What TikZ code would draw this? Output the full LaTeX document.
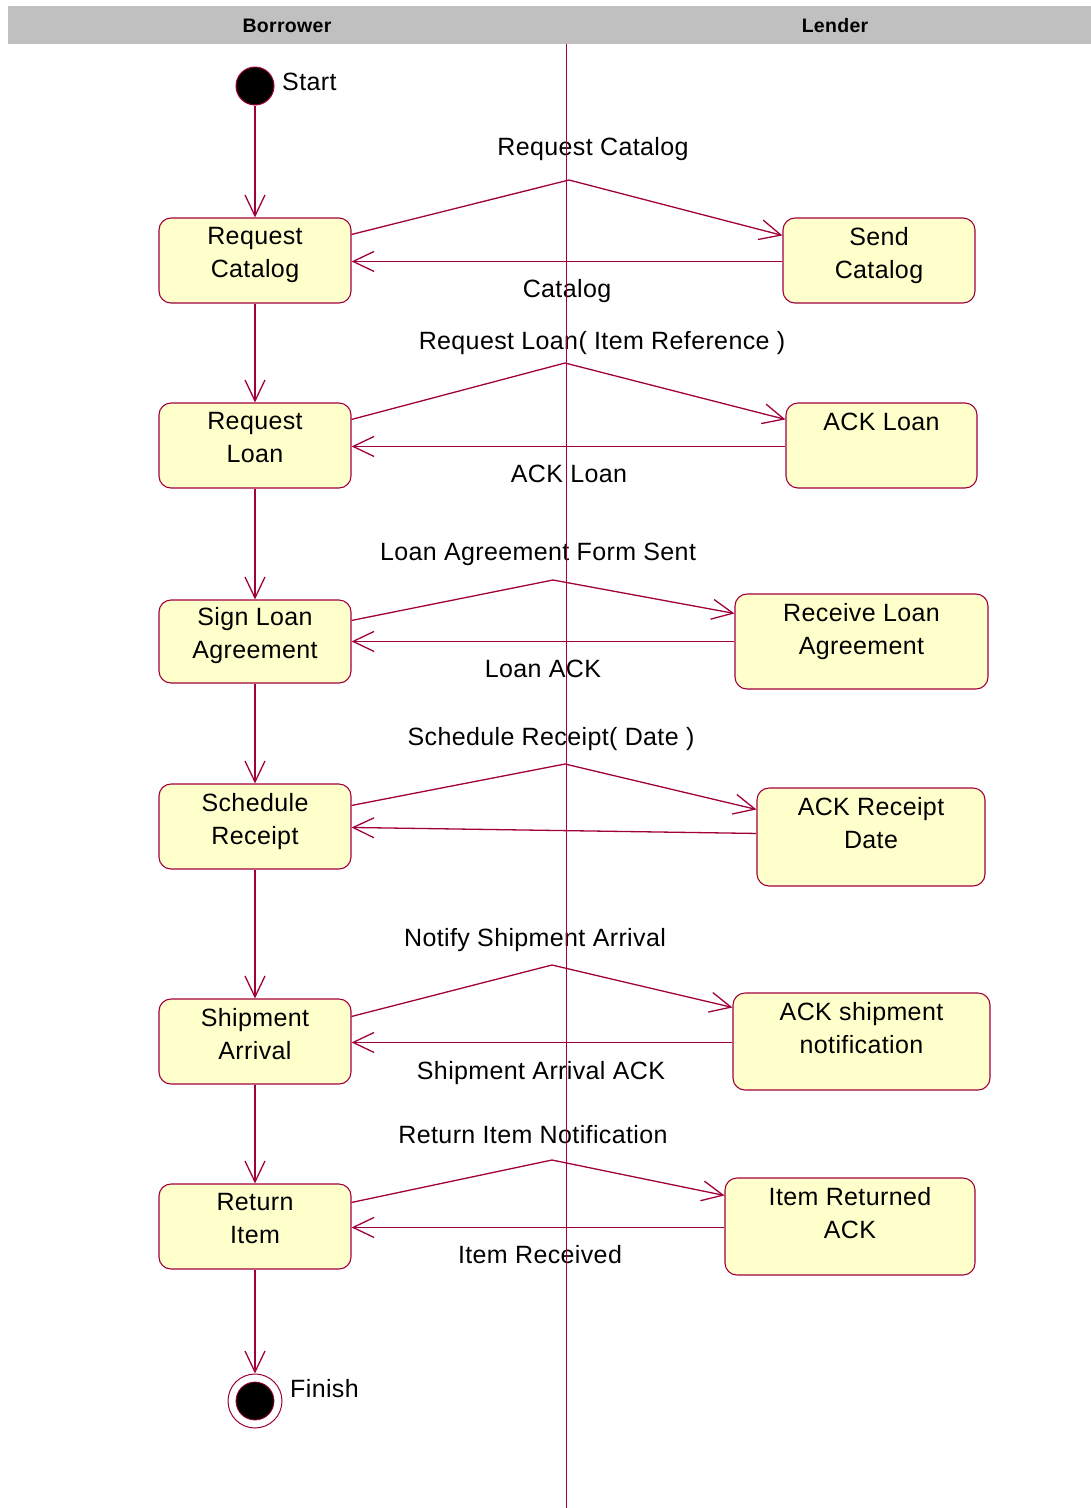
\documentclass[tikz,border=0pt]{standalone}
\usepackage{fontspec}
\setmainfont{Liberation Sans}[LetterSpace=1.5]
\usetikzlibrary{arrows.meta}
\definecolor{crim}{RGB}{160,0,60}
\definecolor{statefill}{RGB}{255,255,204}
\definecolor{lanegray}{RGB}{192,192,192}

\begin{document}
\begin{tikzpicture}[x=1pt,y=-1pt,
  txt/.style={font=\fontsize{25}{32.5}\selectfont, inner sep=0pt, text=black},
  lanetitle/.style={font=\fontsize{19.5}{22}\selectfont\bfseries, inner sep=0pt, anchor=base},
  state/.style={draw=crim, fill=statefill, line width=1.1pt, rounded corners=12pt, inner sep=0pt},
  statetext/.style={txt, align=center, anchor=north},
  msg/.style={txt, anchor=base},
  flow/.style={draw=crim, line width=1.3pt,
    -{Straight Barb[length=21pt,width=20pt,line width=1.3pt]}},
  ]
\useasboundingbox (0,0) rectangle (1091,1508);

% swimlane header
\fill[lanegray] (8,6) rectangle (1091,44);
\node[lanetitle] (borrower) at (287,32.5) {Borrower};
\node[lanetitle] (lender) at (835,32.5) {Lender};

% initial and final states
\node[circle, fill=black, draw=crim, line width=1pt, minimum size=38pt, inner sep=0pt] (start) at (255,86) {};
\node[txt, anchor=base west] (start-l) at (282,90) {Start};
\node[circle, fill=white, draw=crim, line width=1pt, minimum size=54pt, inner sep=0pt] (finish) at (255,1401) {};
\node[circle, fill=black, draw=crim, line width=0.8pt, minimum size=38pt, inner sep=0pt] (finish-dot) at (255,1401) {};
\node[txt, anchor=base west] (finish-l) at (290,1397) {Finish};

% borrower states
\node[state, minimum width=192pt, minimum height=85pt] (rc)  at (255,260.5) {};
\node[state, minimum width=192pt, minimum height=85pt] (rl)  at (255,445.5) {};
\node[state, minimum width=192pt, minimum height=83pt] (sl)  at (255,641.5) {};
\node[state, minimum width=192pt, minimum height=85pt] (sr)  at (255,826.5) {};
\node[state, minimum width=192pt, minimum height=85pt] (sa)  at (255,1041.5) {};
\node[state, minimum width=192pt, minimum height=85pt] (ri)  at (255,1226.5) {};

% lender states
\node[state, minimum width=192pt, minimum height=85pt] (sc)  at (879,260.5) {};
\node[state, minimum width=191pt, minimum height=85pt] (al)  at (881.5,445.5) {};
\node[state, minimum width=253pt, minimum height=95pt] (rla) at (861.5,641.5) {};
\node[state, minimum width=228pt, minimum height=98pt] (ard) at (871,837) {};
\node[state, minimum width=257pt, minimum height=97pt] (asn) at (861.5,1041.5) {};
\node[state, minimum width=250pt, minimum height=97pt] (ira) at (850,1226.5) {};

% state names
\node[statetext] (rc-t)  at ([yshift=-10pt]rc.north)  {Request\\Catalog};
\node[statetext] (rl-t)  at ([yshift=-10pt]rl.north)  {Request\\Loan};
\node[statetext] (sl-t)  at ([yshift=-8pt]sl.north)   {Sign Loan\\Agreement};
\node[statetext] (sr-t)  at ([yshift=-10pt]sr.north)  {Schedule\\Receipt};
\node[statetext] (sa-t)  at ([yshift=-10pt]sa.north)  {Shipment\\Arrival};
\node[statetext] (ri-t)  at ([yshift=-10pt]ri.north)  {Return\\Item};
\node[statetext] (sc-t)  at ([yshift=-10pt]sc.north)  {Send\\Catalog};
\node[statetext] (al-t)  at ([yshift=-10pt]al.north)  {ACK Loan};
\node[statetext] (rla-t) at ([yshift=-10pt]rla.north) {Receive Loan\\Agreement};
\node[statetext] (ard-t) at ([yshift=-10pt]ard.north) {ACK Receipt\\Date};
\node[statetext] (asn-t) at ([yshift=-10pt]asn.north) {ACK shipment\\notification};
\node[statetext] (ira-t) at ([yshift=-10pt]ira.north) {Item Returned\\ACK};

% control flow in the borrower lane
\draw[flow] (start) -- (rc);
\draw[flow] (rc) -- (rl);
\draw[flow] (rl) -- (sl);
\draw[flow] (sl) -- (sr);
\draw[flow] (sr) -- (sa);
\draw[flow] (sa) -- (ri);
\draw[flow] (ri) -- (finish);

% message bends
\coordinate (m1) at (569,180);
\coordinate (m2) at (565,363);
\coordinate (m3) at (553,580);
\coordinate (m4) at (565,764);
\coordinate (m5) at (552,965);
\coordinate (m6) at (552,1160);

% requests to the lender
\draw[flow] ([yshift=-17pt]rc.north east) -- (m1) -- ([yshift=-18pt]sc.north west);
\draw[flow] ([yshift=-17pt]rl.north east) -- (m2) -- ([yshift=-17pt]al.north west);
\draw[flow] ([yshift=-21pt]sl.north east) -- (m3) -- ([yshift=-20pt]rla.north west);
\draw[flow] ([yshift=-22pt]sr.north east) -- (m4) -- ([yshift=-22pt]ard.north west);
\draw[flow] ([yshift=-18pt]sa.north east) -- (m5) -- ([yshift=-15pt]asn.north west);
\draw[flow] ([yshift=-19pt]ri.north east) -- (m6) -- ([yshift=-18pt]ira.north west);

% replies to the borrower
\draw[flow] ([yshift=-44pt]sc.north west)  -- ([yshift=-44pt]rc.north east);
\draw[flow] ([yshift=-44pt]al.north west)  -- ([yshift=-44pt]rl.north east);
\draw[flow] ([yshift=-48pt]rla.north west) -- ([yshift=-42pt]sl.north east);
\draw[flow] ([yshift=-46pt]ard.north west) -- ([yshift=-44pt]sr.north east);
\draw[flow] ([yshift=-50pt]asn.north west) -- ([yshift=-44pt]sa.north east);
\draw[flow] ([yshift=-50pt]ira.north west) -- ([yshift=-44pt]ri.north east);

% message labels
\node[msg] (l1)  at (593,155)  {Request Catalog};
\node[msg] (l1r) at (567,297)  {Catalog};
\node[msg] (l2)  at (602,349)  {Request Loan( Item Reference )};
\node[msg] (l2r) at (569,482)  {ACK Loan};
\node[msg] (l3)  at (538,560)  {Loan Agreement Form Sent};
\node[msg] (l3r) at (543,677)  {Loan ACK};
\node[msg] (l4)  at (551,745)  {Schedule Receipt( Date )};
\node[msg] (l5)  at (535,946)  {Notify Shipment Arrival};
\node[msg] (l5r) at (541,1079) {Shipment Arrival ACK};
\node[msg] (l6)  at (533,1143) {Return Item Notification};
\node[msg] (l6r) at (540,1263) {Item Received};

% swimlane divider
\draw[crim, line width=1.4pt] (566.5,44) -- (566.5,1508);
\end{tikzpicture}
\end{document}
